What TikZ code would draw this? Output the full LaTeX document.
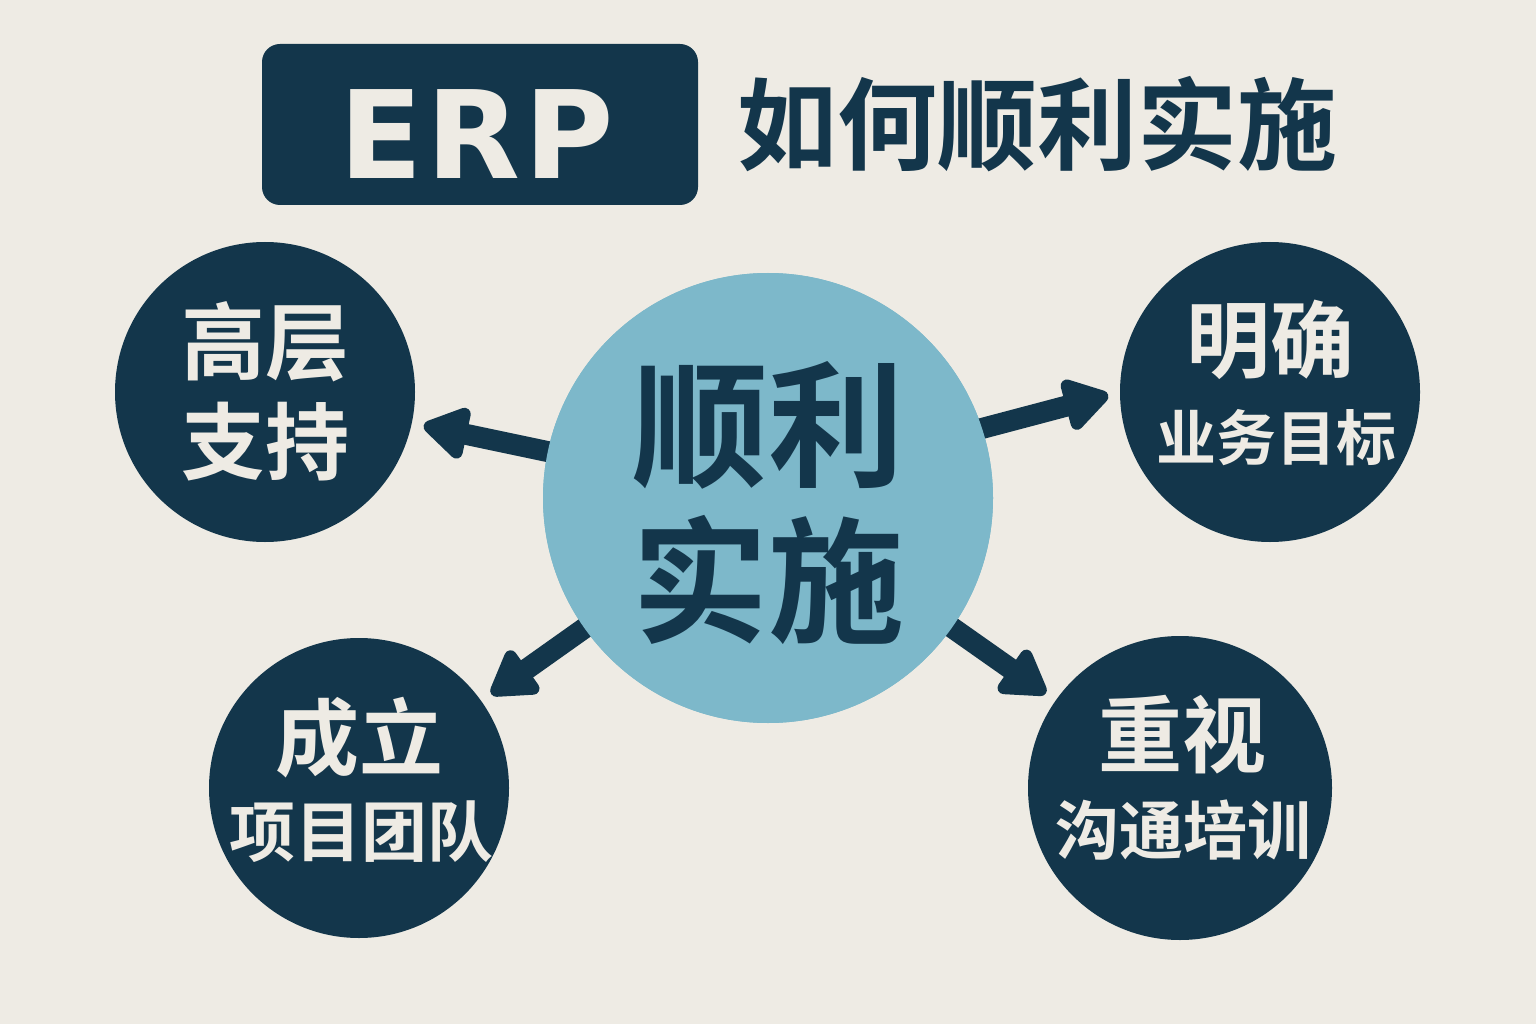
\documentclass[tikz,border=0pt]{standalone}
\usepackage{fontspec}
\newfontfamily\cjk{Noto Sans CJK SC}[BoldFont={Noto Sans CJK SC Bold}]
\newfontfamily\latinb{DejaVu Sans}
\usetikzlibrary{arrows.meta}
\definecolor{bgc}{HTML}{EEEBE4}
\definecolor{navy}{HTML}{13364B}
\definecolor{lblue}{HTML}{7DB8CA}
\definecolor{offw}{HTML}{EEEBE4}
\tikzset{
  outer/.style={circle,fill=navy,minimum size=300pt,inner sep=0pt},
  bigtxt/.style={text=offw,font=\cjk\bfseries\fontsize{84}{84}\selectfont,inner sep=0pt,anchor=center},
  smalltxt/.style={text=offw,inner sep=0pt,anchor=center},
  conn/.style={navy,line width=21pt,-{Triangle[length=50pt,width=58pt,round]},shorten >=12pt,shorten <=-8pt}
}
\begin{document}
\begin{tikzpicture}[x=1pt,y=-1pt]
\fill[bgc] (0,0) rectangle (1536,1024);
\useasboundingbox (0,0) rectangle (1536,1024);
% title
\node[fill=navy,rounded corners=18pt,minimum width=436pt,minimum height=161pt,inner sep=0pt] (tbox) at (480,124.5) {};
\node[text=offw,font=\latinb\bfseries\fontsize{122}{122}\selectfont,inner sep=0pt] (erp) at (477,134) {E\kern4pt R\kern4pt P};
\node[text=navy,font=\cjk\bfseries\fontsize{100}{100}\selectfont,inner sep=0pt] (title) at (1037,124) {如何顺利实施};
% circles
\node[circle,fill=lblue,minimum size=450pt,inner sep=0pt] (c) at (768,498) {};
\node[outer] (tl) at (265,392) {};
\node[outer] (tr) at (1270,392) {};
\node[outer] (bl) at (359,788) {};
\node[outer,minimum size=304pt] (br) at (1180,788) {};
% connectors
\draw[conn] (c) -- (tl);
\draw[conn] (c.18) -- (tr.180);
\draw[conn] (c) -- (bl);
\draw[conn] (c) -- (br);
% redraw centre circle on top of the connector starts
\node[circle,fill=lblue,minimum size=450pt,inner sep=0pt] (cc) at (c) {};
% center text
\node[text=navy,font=\cjk\bfseries\fontsize{136}{136}\selectfont,inner sep=0pt] (c1) at (768,425) {顺利};
\node[text=navy,font=\cjk\bfseries\fontsize{136}{136}\selectfont,inner sep=0pt] (c2) at (768,580) {实施};
% outer texts
\node[bigtxt] (tl1) at (265,342) {高层};
\node[bigtxt] (tl2) at (265,442) {支持};
\node[bigtxt] (tr1) at (1270,340) {明确};
\node[smalltxt,font=\cjk\bfseries\fontsize{60}{60}\selectfont] (tr2) at (1276,438) {业务目标};
\node[bigtxt] (bl1) at (359,738) {成立};
\node[smalltxt,font=\cjk\bfseries\fontsize{66}{66}\selectfont] (bl2) at (361,832) {项目团队};
\node[bigtxt] (br1) at (1182,735) {重视};
\node[smalltxt,font=\cjk\bfseries\fontsize{64}{64}\selectfont] (br2) at (1183,830) {沟通培训};
\end{tikzpicture}
\end{document}
